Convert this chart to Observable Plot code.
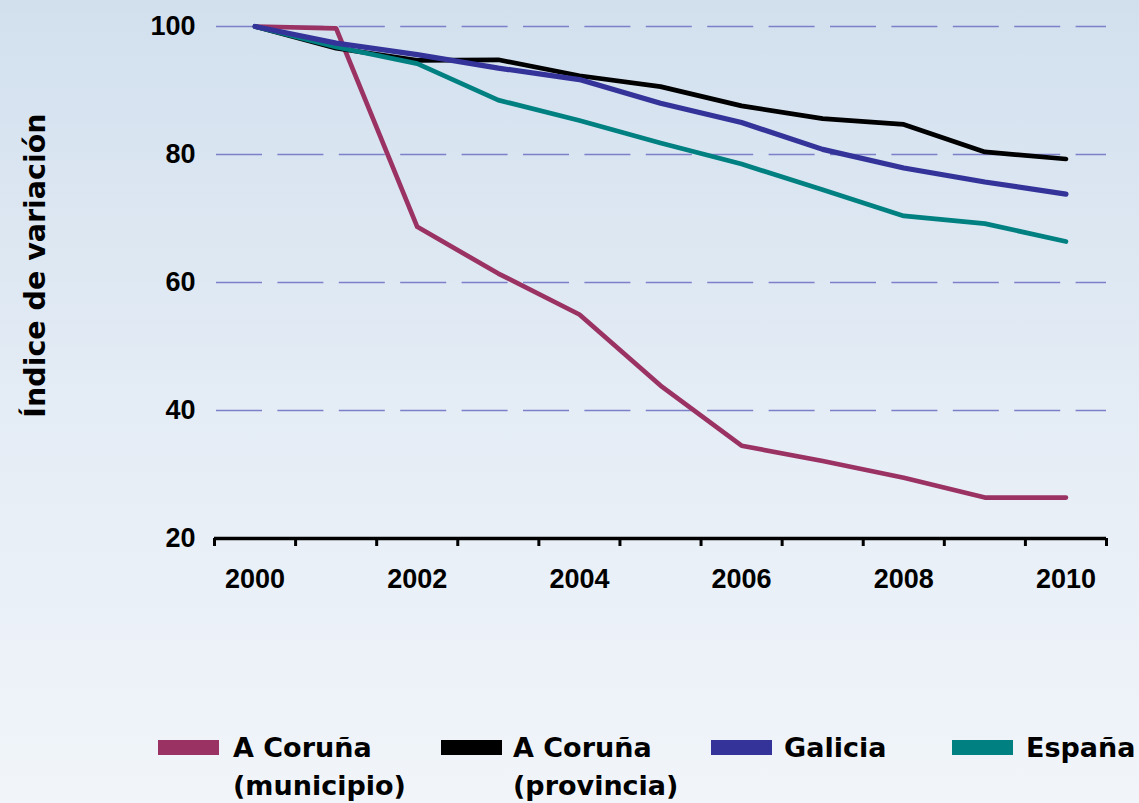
<!DOCTYPE html>
<html>
<head>
<meta charset="utf-8">
<script src="https://cdn.jsdelivr.net/npm/d3@7"></script>
<script src="https://cdn.jsdelivr.net/npm/@observablehq/plot@0.6"></script>
<style>
  html, body { margin: 0; padding: 0; }
  body {
    width: 1139px; height: 803px; overflow: hidden;
    background: linear-gradient(to bottom, #d2e0ee 0%, #e4ecf5 50%, #f1f5fa 100%);
    font-family: "DejaVu Sans", sans-serif; font-weight: bold; color: #000;
  }
  #chart svg { display: block; }
  #legend { position: relative; height: 183px; width: 1139px; }
  .sw { position: absolute; top: 120px; width: 61px; height: 15px; }
  .lt { position: absolute; top: 109px; font-size: 27px; line-height: 38px; white-space: nowrap; }
</style>
</head>
<body>
<div id="chart"></div>
<div id="legend"></div>
<script>
const years = [2000, 2001, 2002, 2003, 2004, 2005, 2006, 2007, 2008, 2009, 2010];
const municipio = [100, 99.7, 68.7, 61.4, 55.0, 43.9, 34.5, 32.1, 29.5, 26.4, 26.4];
const provincia = [100, 96.6, 94.7, 94.8, 92.3, 90.6, 87.6, 85.6, 84.7, 80.4, 79.3];
const galicia   = [100, 97.4, 95.6, 93.5, 91.7, 88.0, 85.0, 80.8, 77.9, 75.7, 73.8];
const espana    = [100, 96.8, 94.2, 88.5, 85.3, 81.8, 78.5, 74.5, 70.4, 69.2, 66.4];
const seriesNames = ["A Coruña (municipio)", "A Coruña (provincia)", "Galicia", "España"];
const legendLines = [["A Coruña", "(municipio)"], ["A Coruña", "(provincia)"], ["Galicia"], ["España"]];
const colors = ["#9b3264", "#000000", "#333399", "#008080"];
const yTicks = [20, 40, 60, 80, 100];
const gridVals = [40, 60, 80, 100];
const labelYears = [2000, 2002, 2004, 2006, 2008, 2010];
const yLabel = "Índice de variación";

const seriesValues = [municipio, provincia, galicia, espana];
const rows = seriesNames.map((s, i) => years.map((yr, j) => ({series: s, year: yr, value: seriesValues[i][j]})));
const boundaries = years.map(y => y - 0.5).concat([years[years.length - 1] + 0.5]);
const drawOrder = [0, 1, 3, 2];

const plot = Plot.plot({
  width: 1139,
  height: 620,
  marginLeft: 214,
  marginRight: 33,
  marginTop: 26,
  marginBottom: 82,
  style: {background: "transparent", fontFamily: "'Liberation Sans', Arial, sans-serif", fontWeight: "bold", color: "#000", overflow: "visible"},
  x: {domain: [boundaries[0], boundaries[boundaries.length - 1]]},
  y: {domain: [20, 100]},
  marks: [
    Plot.ruleY(gridVals, {stroke: "#7c80c9", strokeWidth: 1.3, strokeDasharray: "46,15.4", strokeDashoffset: -2}),
    Plot.axisY(yTicks, {tickSize: 0, tickPadding: 19, fontSize: 27, tickFormat: d => String(d), label: null}),
    Plot.axisX(boundaries, {tickSize: 8, tickFormat: () => "", stroke: "#000", strokeWidth: 3, label: null}),
    Plot.axisX(labelYears, {tickSize: 0, tickPadding: 30, fontSize: 27, tickFormat: d => String(d), label: null}),
    Plot.ruleY([20], {stroke: "#000", strokeWidth: 3.5}),
    ...drawOrder.map(i => Plot.line(rows[i], {x: "year", y: "value", stroke: colors[i], strokeWidth: i === 2 ? 5.2 : 4.7})),
    Plot.text([yLabel], {text: d => d, frameAnchor: "left", textAnchor: "middle", dx: -179, dy: -17, rotate: -90, fontSize: 28.5, fontWeight: "bold", fontFamily: "'DejaVu Sans', sans-serif", fill: "#000"})
  ]
});
document.getElementById("chart").append(plot);

const swatchX = [158, 441, 711, 952];
const textX = [233, 513, 784, 1026];
const legend = document.getElementById("legend");
seriesNames.forEach((s, i) => {
  const sw = document.createElement("div");
  sw.className = "sw";
  sw.style.left = swatchX[i] + "px";
  sw.style.background = colors[i];
  legend.append(sw);
  const t = document.createElement("div");
  t.className = "lt";
  t.style.left = textX[i] + "px";
  t.innerHTML = legendLines[i].join("<br>");
  legend.append(t);
});
</script>
</body>
</html>
